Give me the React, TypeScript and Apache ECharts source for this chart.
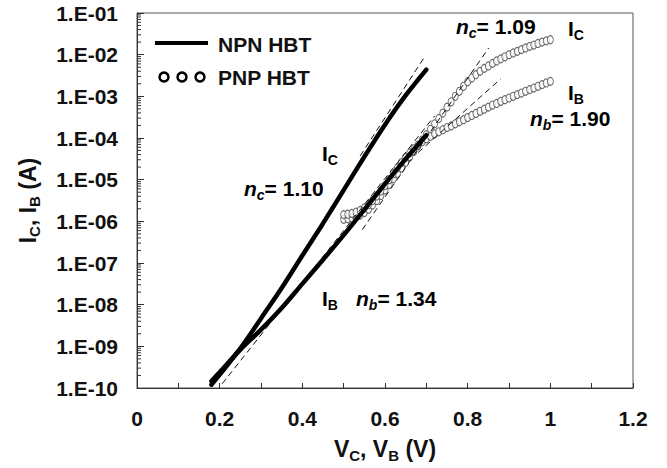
import React, { useEffect, useRef } from 'react';
import * as echarts from 'echarts';

// NPN HBT (solid lines)
const npnV = [0.18, 0.2, 0.25, 0.3, 0.35, 0.4, 0.45, 0.5, 0.55, 0.6, 0.65, 0.7];
const npnIC = [1.2e-10, 2.09e-10, 8.91e-10, 4.68e-9, 2.51e-8, 1.51e-7, 8.91e-7, 5.62e-6, 3.55e-5, 2.09e-4, 1.05e-3, 4.37e-3];
const npnIB = [1.45e-10, 2.4e-10, 8.32e-10, 2.51e-9, 8.32e-9, 3.16e-8, 1.2e-7, 4.68e-7, 1.91e-6, 7.94e-6, 3.16e-5, 1.17e-4];

// PNP HBT (open circles)
const pnpV = [
  0.5, 0.51, 0.52, 0.53, 0.54, 0.55, 0.56, 0.57, 0.58, 0.59,
  0.6, 0.61, 0.62, 0.63, 0.64, 0.65, 0.66, 0.67, 0.68, 0.69,
  0.7, 0.71, 0.72, 0.73, 0.74, 0.75, 0.76, 0.77, 0.78, 0.79,
  0.8, 0.81, 0.82, 0.83, 0.84, 0.85, 0.86, 0.87, 0.88, 0.89,
  0.9, 0.91, 0.92, 0.93, 0.94, 0.95, 0.96, 0.97, 0.98, 0.99, 1.0,
];
const pnpIC = [
  1.12e-6, 1.15e-6, 1.2e-6, 1.29e-6, 1.41e-6, 1.62e-6, 1.95e-6, 2.45e-6, 3.16e-6, 4.17e-6,
  5.62e-6, 7.59e-6, 1.05e-5, 1.41e-5, 1.91e-5, 2.63e-5, 3.55e-5, 4.79e-5, 6.46e-5, 8.91e-5,
  1.2e-4, 1.62e-4, 2.19e-4, 2.95e-4, 3.98e-4, 5.5e-4, 7.41e-4, 1.0e-3, 1.32e-3, 1.74e-3,
  2.24e-3, 2.75e-3, 3.31e-3, 3.98e-3, 4.68e-3, 5.37e-3, 6.17e-3, 7.08e-3, 7.94e-3, 8.91e-3,
  1.0e-2, 1.1e-2, 1.2e-2, 1.32e-2, 1.45e-2, 1.58e-2, 1.7e-2, 1.86e-2, 2.0e-2, 2.14e-2, 2.29e-2,
];
const pnpIB = [
  1.45e-6, 1.48e-6, 1.55e-6, 1.66e-6, 1.82e-6, 2.09e-6, 2.51e-6, 3.16e-6, 4.07e-6, 5.37e-6,
  7.24e-6, 1.0e-5, 1.38e-5, 1.91e-5, 2.57e-5, 3.39e-5, 4.37e-5, 5.5e-5, 6.76e-5, 8.13e-5,
  9.55e-5, 1.1e-4, 1.26e-4, 1.41e-4, 1.58e-4, 1.78e-4, 1.95e-4, 2.19e-4, 2.45e-4, 2.75e-4,
  3.09e-4, 3.47e-4, 3.89e-4, 4.37e-4, 4.9e-4, 5.5e-4, 6.17e-4, 6.76e-4, 7.59e-4, 8.32e-4,
  9.12e-4, 1.0e-3, 1.1e-3, 1.2e-3, 1.32e-3, 1.45e-3, 1.58e-3, 1.74e-3, 1.91e-3, 2.09e-3, 2.29e-3,
];

// Ideality fit lines (dashed)
const fitNpnICV = [0.54, 0.694];
const fitNpnIC = [3.72e-5, 8.32e-3];
const fitNpnIBV = [0.206, 0.72];
const fitNpnIB = [1.26e-10, 3.39e-4];
const fitPnpICV = [0.545, 0.851];
const fitPnpIC = [6.31e-7, 1.45e-2];
const fitPnpIBV = [0.68, 0.88];
const fitPnpIB = [4.47e-5, 2.63e-3];

const yTickLabels = ['1.E-10', '1.E-09', '1.E-08', '1.E-07', '1.E-06', '1.E-05', '1.E-04', '1.E-03', '1.E-02', '1.E-01'];
const xTickLabels = ['0', '0.2', '0.4', '0.6', '0.8', '1', '1.2'];

const FONT = '"Liberation Sans", Arial, Helvetica, sans-serif';
const INK = '#111';

const zip = (xs: number[], ys: number[]) => xs.map((x, i) => [x, ys[i]]);

const richSub = (size: number, subSize: number) => ({
  m: { fontSize: size, fontWeight: 'bold', fontFamily: FONT, color: INK, lineHeight: size + 6 },
  s: { fontSize: subSize, fontWeight: 'bold', fontFamily: FONT, color: INK, lineHeight: subSize - 1, verticalAlign: 'bottom' },
  i: { fontSize: size, fontWeight: 'bold', fontStyle: 'italic', fontFamily: FONT, color: INK, lineHeight: size + 6 },
  si: { fontSize: subSize, fontWeight: 'bold', fontStyle: 'italic', fontFamily: FONT, color: INK, lineHeight: subSize - 1, verticalAlign: 'bottom' },
});

const annot = (text: string, x: number, y: number) => ({
  type: 'text',
  x,
  y,
  style: { text, rich: richSub(21, 14), verticalAlign: 'middle', align: 'left' },
  z: 100,
});

export default function App() {
  const ref = useRef<HTMLDivElement>(null);
  useEffect(() => {
    if (!ref.current) return;
    document.body.style.margin = '0';
    const chart = echarts.init(ref.current, undefined, { renderer: 'svg' });

    const minorTicks: number[][] = [];
    for (let d = -10; d <= -2; d++) {
      for (let k = 2; k <= 9; k++) minorTicks.push([0, k * Math.pow(10, d)]);
    }

    const dashed = (v: number[], i: number[]) => ({
      type: 'line',
      data: zip(v, i),
      showSymbol: false,
      symbol: 'none',
      lineStyle: { color: '#111', width: 1, type: [6, 4] },
      z: 4,
      silent: true,
    });

    const option: any = {
      animation: false,
      backgroundColor: '#fff',
      grid: { left: 137, right: 34, top: 13, bottom: 77, show: true, borderColor: '#555', borderWidth: 1, containLabel: false },
      xAxis: {
        type: 'value',
        min: 0,
        max: 1.2,
        interval: 0.2,
        axisLine: { lineStyle: { color: '#333', width: 1 } },
        axisTick: { inside: true, length: 5, lineStyle: { color: '#333' } },
        minorTick: { show: true, splitNumber: 2, length: 5, lineStyle: { color: '#333' } },
        splitLine: { show: false },
        axisLabel: {
          margin: 20,
          fontSize: 21,
          fontWeight: 'bold',
          fontFamily: FONT,
          color: INK,
          formatter: (v: number) => xTickLabels[Math.round(v / 0.2)],
        },
        name: '{m|V}{s|C}{m|, V}{s|B}{m| (V)}',
        nameLocation: 'middle',
        nameGap: 46,
        nameTextStyle: { rich: richSub(23, 15) },
      },
      yAxis: {
        type: 'log',
        logBase: 10,
        min: 1e-10,
        max: 1e-1,
        interval: 1,
        axisLine: { lineStyle: { color: '#333', width: 1 } },
        axisTick: { inside: true, length: 7, lineStyle: { color: '#333' } },
        splitLine: { show: false },
        axisLabel: {
          margin: 19,
          fontSize: 21,
          fontWeight: 'bold',
          fontFamily: FONT,
          color: INK,
          formatter: (v: number) => yTickLabels[Math.round(Math.log10(v)) + 10],
        },
        name: '{m|I}{s|C}{m|, I}{s|B}{m| (A)}',
        nameLocation: 'middle',
        nameGap: 95,
        nameTextStyle: { rich: richSub(23, 15) },
      },
      series: [
        {
          type: 'custom',
          silent: true,
          data: minorTicks,
          renderItem: (params: any, api: any) => {
            const p = api.coord([0, api.value(1)]);
            return {
              type: 'line',
              shape: { x1: p[0], y1: p[1], x2: p[0] + 4, y2: p[1] },
              style: { stroke: '#333', lineWidth: 1 },
            };
          },
          z: 1,
        },
        {
          name: 'PNP IC',
          type: 'scatter',
          data: zip(pnpV, pnpIC),
          symbol: 'circle',
          symbolSize: [6, 8],
          itemStyle: { color: '#fff', borderColor: '#444', borderWidth: 1 },
          z: 2,
          silent: true,
        },
        {
          name: 'PNP IB',
          type: 'scatter',
          data: zip(pnpV, pnpIB),
          symbol: 'circle',
          symbolSize: [6, 8],
          itemStyle: { color: '#fff', borderColor: '#444', borderWidth: 1 },
          z: 2,
          silent: true,
        },
        dashed(fitNpnICV, fitNpnIC),
        dashed(fitNpnIBV, fitNpnIB),
        dashed(fitPnpICV, fitPnpIC),
        dashed(fitPnpIBV, fitPnpIB),
        {
          name: 'NPN IC',
          type: 'line',
          data: zip(npnV, npnIC),
          smooth: 0.3,
          showSymbol: false,
          symbol: 'none',
          lineStyle: { color: '#000', width: 4.5, cap: 'round' },
          z: 5,
          silent: true,
        },
        {
          name: 'NPN IB',
          type: 'line',
          data: zip(npnV, npnIB),
          smooth: 0.3,
          showSymbol: false,
          symbol: 'none',
          lineStyle: { color: '#000', width: 4.5, cap: 'round' },
          z: 5,
          silent: true,
        },
      ],
      graphic: [
        { type: 'line', shape: { x1: 155, y1: 43, x2: 208, y2: 43 }, style: { stroke: '#000', lineWidth: 4 }, z: 100 },
        { type: 'circle', shape: { cx: 164, cy: 77, r: 4.5 }, style: { fill: '#fff', stroke: '#000', lineWidth: 2.5 }, z: 100 },
        { type: 'circle', shape: { cx: 182, cy: 77, r: 4.5 }, style: { fill: '#fff', stroke: '#000', lineWidth: 2.5 }, z: 100 },
        { type: 'circle', shape: { cx: 200, cy: 77, r: 4.5 }, style: { fill: '#fff', stroke: '#000', lineWidth: 2.5 }, z: 100 },
        { type: 'text', x: 218, y: 44, style: { text: 'NPN HBT', fontSize: 21, fontWeight: 'bold', fontFamily: FONT, fill: INK, verticalAlign: 'middle' }, z: 100 },
        { type: 'text', x: 218, y: 77, style: { text: 'PNP HBT', fontSize: 21, fontWeight: 'bold', fontFamily: FONT, fill: INK, verticalAlign: 'middle' }, z: 100 },
        annot('{m|I}{s|C}', 322, 153),
        annot('{i|n}{si|c}{m|= 1.10}', 244, 188),
        annot('{m|I}{s|B}', 322, 298),
        annot('{i|n}{si|b}{m|= 1.34}', 356, 298),
        annot('{i|n}{si|c}{m|= 1.09}', 456, 26),
        annot('{m|I}{s|C}', 568, 28),
        annot('{m|I}{s|B}', 568, 92),
        annot('{i|n}{si|b}{m|= 1.90}', 530, 118),
      ],
    };
    chart.setOption(option);
    return () => chart.dispose();
  }, []);
  return <div ref={ref} style={{ position: 'absolute', left: 0, top: 0, width: 667, height: 468, background: '#fff' }} />;
}
